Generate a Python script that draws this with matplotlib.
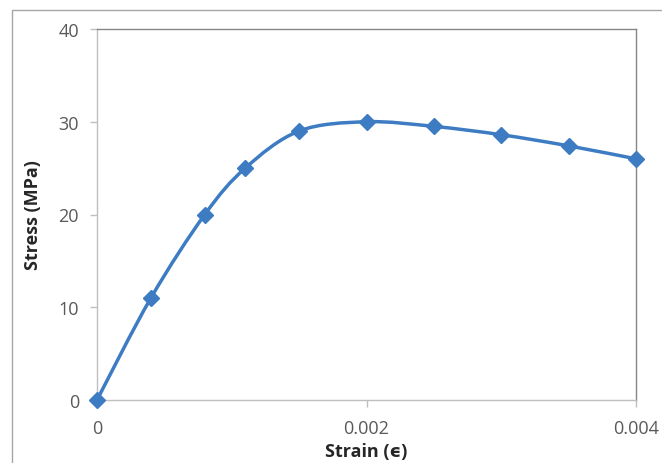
import numpy as np
import matplotlib
matplotlib.use("Agg")
import matplotlib.pyplot as plt
from matplotlib.patches import Rectangle
from matplotlib.path import Path
from matplotlib.patches import PathPatch

strain = [0.0, 0.0004, 0.0008, 0.0011, 0.0015, 0.002, 0.0025, 0.003, 0.0035, 0.004]
stress = [0.0, 11.0, 20.0, 25.0, 29.0, 30.0, 29.5, 28.6, 27.4, 26.0]
x_ticks = [0, 0.002, 0.004]
x_ticklabels = ["0", "0.002", "0.004"]
y_ticks = [0, 10, 20, 30, 40]

W, H = 662, 464
fig = plt.figure(figsize=(W / 100, H / 100), dpi=100)
fig.patch.set_facecolor("white")

# outer chart border
fig.patches.append(Rectangle((12 / W, -0.05), 1.2, 1 - 11 / H + 0.05, transform=fig.transFigure,
                             fill=False, edgecolor="#A6A6A6", linewidth=1.0))

ax = fig.add_axes([97 / W, 1 - 401 / H, (636 - 97) / W, (401 - 30) / H])
ax.set_xlim(0, 0.004)
ax.set_ylim(0, 40)

line_color = "#3D7CC2"
fam = ["Open Sans", "DejaVu Sans"]

# Excel-style smoothed line (Catmull-Rom Bezier in display space)
fig.canvas.draw()
pts = ax.transData.transform(np.column_stack([strain, stress]))
n = len(pts)
verts = [pts[0]]
codes = [Path.MOVETO]
for i in range(n - 1):
    p0 = pts[i - 1] if i > 0 else pts[i]
    p1 = pts[i]
    p2 = pts[i + 1]
    p3 = pts[i + 2] if i + 2 < n else pts[i + 1]
    c1 = p1 + (p2 - p0) / 6.0
    c2 = p2 - (p3 - p1) / 6.0
    verts += [c1, c2, p2]
    codes += [Path.CURVE4] * 3
verts = ax.transData.inverted().transform(np.array(verts))
path = Path(verts, codes)
ax.add_patch(PathPatch(path, fill=False, edgecolor=line_color, linewidth=2.5,
                       capstyle="round", joinstyle="round", zorder=3, clip_on=False))

ax.plot(strain, stress, linestyle="none", marker="D", markersize=8,
        color=line_color, zorder=4, clip_on=False)

for s in ["top", "right"]:
    ax.spines[s].set_color("#868686")
    ax.spines[s].set_linewidth(1.0)
for s in ["left", "bottom"]:
    ax.spines[s].set_color("#BFBFBF")
    ax.spines[s].set_linewidth(1.0)

ax.set_xticks(x_ticks)
ax.set_xticklabels(x_ticklabels)
ax.set_yticks(y_ticks)
ax.tick_params(axis="both", direction="out", length=5, width=1, color="#BFBFBF",
               labelcolor="#595959", labelsize=13)
ax.tick_params(axis="x", pad=9)
ax.tick_params(axis="y", pad=8)
for lab in ax.get_xticklabels() + ax.get_yticklabels():
    lab.set_family(fam)

ax.set_xlabel("Strain (ϵ)", fontsize=13, fontweight="bold", family=fam, color="#262626", labelpad=3)
ax.set_ylabel("Stress (MPa)", fontsize=13, fontweight="bold", family=fam, color="#262626", labelpad=12)

fig.savefig("out.png", dpi=100)
